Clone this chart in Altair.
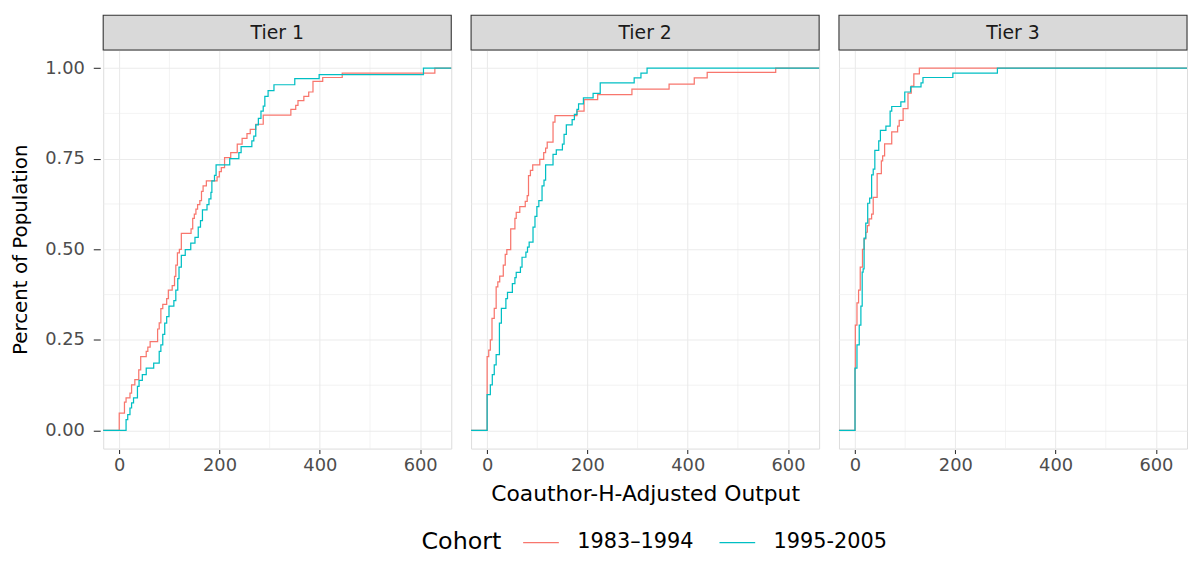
import altair as alt
import pandas as pd

TIERS = ["Tier 1", "Tier 2", "Tier 3"]
COHORTS = ["1983–1994", "1995-2005"]
COLORS = ["#F8766D", "#00BFC4"]

X_TICKS = [0, 200, 400, 600]
X_MINOR = [100, 300, 500]
Y_TICKS = [0.0, 0.25, 0.5, 0.75, 1.0]
Y_MINOR = [0.125, 0.375, 0.625, 0.875]
XMIN, XMAX = -32, 662
YMIN, YMAX = -0.05, 1.05

# Step positions (output value, cumulative share)
t1_a_x = [0.0, 10.4, 13.6, 21.4, 24.6, 31.1, 38.9, 42.8, 53.8, 57.0, 61.6, 76.5, 79.7, 83.0, 86.8, 94.6,
          97.9, 105.6, 110.2, 112.8, 116.0, 119.9, 123.8, 143.2, 146.5, 149.7, 152.9, 156.2, 160.7, 164.0,
          167.2, 173.7, 195.1, 199.6, 203.5, 210.0, 222.3, 235.3, 245.0, 254.7, 261.2, 272.2, 287.1, 342.2,
          351.9, 356.4, 368.1, 377.8, 386.3, 405.7, 444.6, 629.3]
t1_a_y = [0.048, 0.078, 0.09, 0.103, 0.126, 0.14, 0.167, 0.204, 0.218, 0.23, 0.245, 0.28, 0.297, 0.336, 0.348,
          0.364, 0.387, 0.40, 0.425, 0.456, 0.49, 0.50, 0.544, 0.556, 0.585, 0.597, 0.611, 0.623, 0.634, 0.66,
          0.675, 0.689, 0.70, 0.714, 0.725, 0.753, 0.767, 0.79, 0.806, 0.819, 0.831, 0.845, 0.87, 0.886,
          0.897, 0.91, 0.922, 0.934, 0.963, 0.974, 0.986, 1.0]
t1_b_x = [13.6, 16.9, 21.4, 24.6, 28.5, 36.3, 39.5, 46.0, 53.8, 68.7, 79.7, 83.0, 86.8, 90.7, 94.6, 99.2,
          108.9, 112.8, 116.7, 119.2, 123.8, 131.6, 142.6, 151.0, 157.5, 162.0, 165.9, 175.0, 178.9, 182.8,
          184.7, 189.9, 193.1, 220.3, 238.5, 243.0, 264.4, 268.3, 272.2, 277.4, 282.6, 287.1, 290.3, 296.8,
          308.5, 350.0, 398.6, 606.6]
t1_b_y = [0.03, 0.044, 0.062, 0.076, 0.09, 0.122, 0.138, 0.154, 0.172, 0.186, 0.218, 0.236, 0.265, 0.296,
          0.314, 0.343, 0.358, 0.387, 0.419, 0.451, 0.483, 0.499, 0.517, 0.533, 0.561, 0.579, 0.609, 0.623,
          0.639, 0.657, 0.689, 0.704, 0.733, 0.75, 0.767, 0.783, 0.799, 0.812, 0.843, 0.861, 0.881, 0.895,
          0.922, 0.938, 0.954, 0.971, 0.982, 1.0]
t2_a_x = [0.0, 3.2, 6.4, 9.7, 14.2, 18.0, 21.3, 25.1, 32.2, 36.1, 39.3, 47.0, 55.4, 58.0, 65.1, 76.0, 79.9,
          82.5, 86.3, 90.9, 105.0, 112.8, 116.6, 119.8, 131.4, 135.3, 179.1, 193.3, 220.4, 288.7, 362.8,
          413.0, 438.8, 575.4]
t2_a_y = [0.204, 0.222, 0.25, 0.309, 0.337, 0.396, 0.41, 0.426, 0.456, 0.486, 0.499, 0.556, 0.585, 0.602,
          0.618, 0.632, 0.648, 0.703, 0.718, 0.733, 0.748, 0.767, 0.779, 0.796, 0.851, 0.869, 0.881, 0.913,
          0.927, 0.942, 0.956, 0.973, 0.988, 1.0]
t2_b_x = [0.0, 6.4, 10.3, 14.2, 18.0, 24.5, 28.4, 37.4, 40.6, 50.3, 55.4, 58.0, 66.4, 69.6, 77.3, 80.5,
          83.8, 91.5, 95.4, 99.2, 103.1, 109.5, 113.4, 116.6, 131.4, 137.9, 150.1, 153.4, 157.9, 169.5,
          174.0, 179.1, 182.3, 192.0, 211.3, 225.5, 293.2, 306.7, 318.9]
t2_b_y = [0.099, 0.126, 0.154, 0.181, 0.209, 0.296, 0.337, 0.364, 0.381, 0.405, 0.422, 0.436, 0.451, 0.478,
          0.492, 0.506, 0.52, 0.561, 0.591, 0.618, 0.634, 0.675, 0.691, 0.733, 0.762, 0.774, 0.79, 0.817,
          0.843, 0.858, 0.872, 0.886, 0.901, 0.918, 0.93, 0.959, 0.973, 0.986, 1.0]
t3_a_x = [0.0, 0.6, 3.9, 7.1, 10.4, 14.9, 18.1, 21.4, 24.6, 27.9, 33.1, 36.3, 44.1, 52.5, 55.1, 59.0, 73.2,
          84.9, 88.1, 95.9, 105.6, 112.1, 117.3, 128.3]
t3_a_y = [0.17, 0.291, 0.352, 0.387, 0.451, 0.50, 0.529, 0.547, 0.565, 0.584, 0.597, 0.643, 0.709, 0.744,
          0.758, 0.791, 0.824, 0.84, 0.856, 0.888, 0.931, 0.95, 0.984, 1.0]
t3_b_x = [0.0, 3.9, 8.4, 11.7, 14.3, 16.2, 18.1, 21.4, 25.3, 29.2, 33.1, 36.3, 39.5, 47.3, 50.6, 61.6, 70.0,
          73.2, 91.4, 99.2, 110.8, 131.6, 135.5, 195.1, 283.9]
t3_b_y = [0.172, 0.236, 0.291, 0.343, 0.437, 0.446, 0.531, 0.572, 0.627, 0.641, 0.705, 0.721, 0.773, 0.799,
          0.828, 0.84, 0.881, 0.894, 0.907, 0.934, 0.948, 0.959, 0.974, 0.986, 1.0]

SERIES = {
    ("Tier 1", COHORTS[0]): (t1_a_x, t1_a_y),
    ("Tier 1", COHORTS[1]): (t1_b_x, t1_b_y),
    ("Tier 2", COHORTS[0]): (t2_a_x, t2_a_y),
    ("Tier 2", COHORTS[1]): (t2_b_x, t2_b_y),
    ("Tier 3", COHORTS[0]): (t3_a_x, t3_a_y),
    ("Tier 3", COHORTS[1]): (t3_b_x, t3_b_y),
}

rows = []
for (tier, cohort), (xs, ys) in SERIES.items():
    # ecdf padded to -Inf / +Inf like ggplot's stat_ecdf
    rows.append(dict(kind="ecdf", tier=tier, cohort=cohort, x=XMIN, y=0.0))
    for xv, yv in zip(xs, ys):
        rows.append(dict(kind="ecdf", tier=tier, cohort=cohort, x=xv, y=yv))
    rows.append(dict(kind="ecdf", tier=tier, cohort=cohort, x=XMAX, y=1.0))
for tier in TIERS:
    rows.append(dict(kind="strip", tier=tier, cohort=None, x=None, y=None))
    for v in X_MINOR:
        rows.append(dict(kind="vgrid", tier=tier, cohort=None, x=v, y=None))
    for v in Y_MINOR:
        rows.append(dict(kind="hgrid", tier=tier, cohort=None, x=None, y=v))
df = pd.DataFrame(rows)

W, H = 351, 402
FONT = "DejaVu Sans"
GRID = "#EBEBEB"
DARK = "#333333"

x_enc = alt.X(
    "x:Q",
    scale=alt.Scale(domain=[XMIN, XMAX], nice=False, zero=False),
    axis=alt.Axis(values=X_TICKS, format="d", title=None, grid=True, gridColor=GRID, gridWidth=1.1,
                  tickSize=4, tickColor=DARK, tickWidth=1.1, domain=False, labelFontSize=18,
                  labelColor="#4D4D4D", labelPadding=3, labelFont=FONT),
)
y_enc = alt.Y(
    "y:Q",
    scale=alt.Scale(domain=[YMIN, YMAX], nice=False, zero=False),
    axis=alt.Axis(values=Y_TICKS, format=".2f", title="Percent of Population", grid=True, gridColor=GRID,
                  gridWidth=1.1, tickSize=7, tickColor=DARK, tickWidth=1.1, domain=False, labelFontSize=18,
                  labelColor="#4D4D4D", labelPadding=9, labelFont=FONT, titleFont=FONT, titleFontSize=20,
                  titleFontWeight="normal", titleColor="black", titlePadding=14),
)

vminor = alt.Chart().mark_rule(color=GRID, strokeWidth=0.6).encode(
    x=x_enc, y=alt.value(0), y2=alt.value(H)
).transform_filter(alt.datum.kind == "vgrid")

hminor = alt.Chart().mark_rule(color=GRID, strokeWidth=0.6).encode(
    y=y_enc, x=alt.value(0), x2=alt.value(W)
).transform_filter(alt.datum.kind == "hgrid")

lines = alt.Chart().mark_line(interpolate="step-after", strokeWidth=1.25).encode(
    x=x_enc,
    y=y_enc,
    color=alt.Color(
        "cohort:N",
        scale=alt.Scale(domain=COHORTS, range=COLORS),
        legend=alt.Legend(title="Cohort", orient="none", legendX=321, legendY=486, direction="horizontal",
                          titleOrient="left", titleFont=FONT, titleFontSize=24, titleFontWeight="normal",
                          titleColor="black", labelFont=FONT, labelFontSize=21, labelColor="black",
                          symbolType="M-2,0L2,0", symbolSize=324, symbolStrokeWidth=1.3, labelOffset=26,
                          columnPadding=22, titlePadding=29, padding=0),
    ),
).transform_filter(alt.datum.kind == "ecdf")

strip = alt.Chart().mark_rect(fill="#D9D9D9", stroke=DARK, strokeWidth=1.1).encode(
    x=alt.value(0), x2=alt.value(W), y=alt.value(-35), y2=alt.value(0)
).transform_filter(alt.datum.kind == "strip")

strip_text = alt.Chart().mark_text(font=FONT, fontSize=19, color="#1A1A1A", baseline="middle").encode(
    x=alt.value(W / 2), y=alt.value(-17), text="tier:N"
).transform_filter(alt.datum.kind == "strip")

panel = alt.layer(vminor, hminor, lines, strip, strip_text, data=df).properties(width=W, height=H)

chart = panel.facet(
    column=alt.Column(
        "tier:N",
        sort=TIERS,
        header=alt.Header(labels=False, title="Coauthor-H-Adjusted Output", titleOrient="bottom",
                          titleFont=FONT, titleFontSize=22, titleFontWeight="normal", titleColor="black",
                          titlePadding=0),
    ),
    spacing=14,
).configure_view(stroke=DARK, strokeWidth=1.1).configure(
    font=FONT, padding={"left": 2, "top": 3, "right": 0, "bottom": 0}
)

chart.save("out.html", embed_options={"renderer": "svg", "actions": False})
